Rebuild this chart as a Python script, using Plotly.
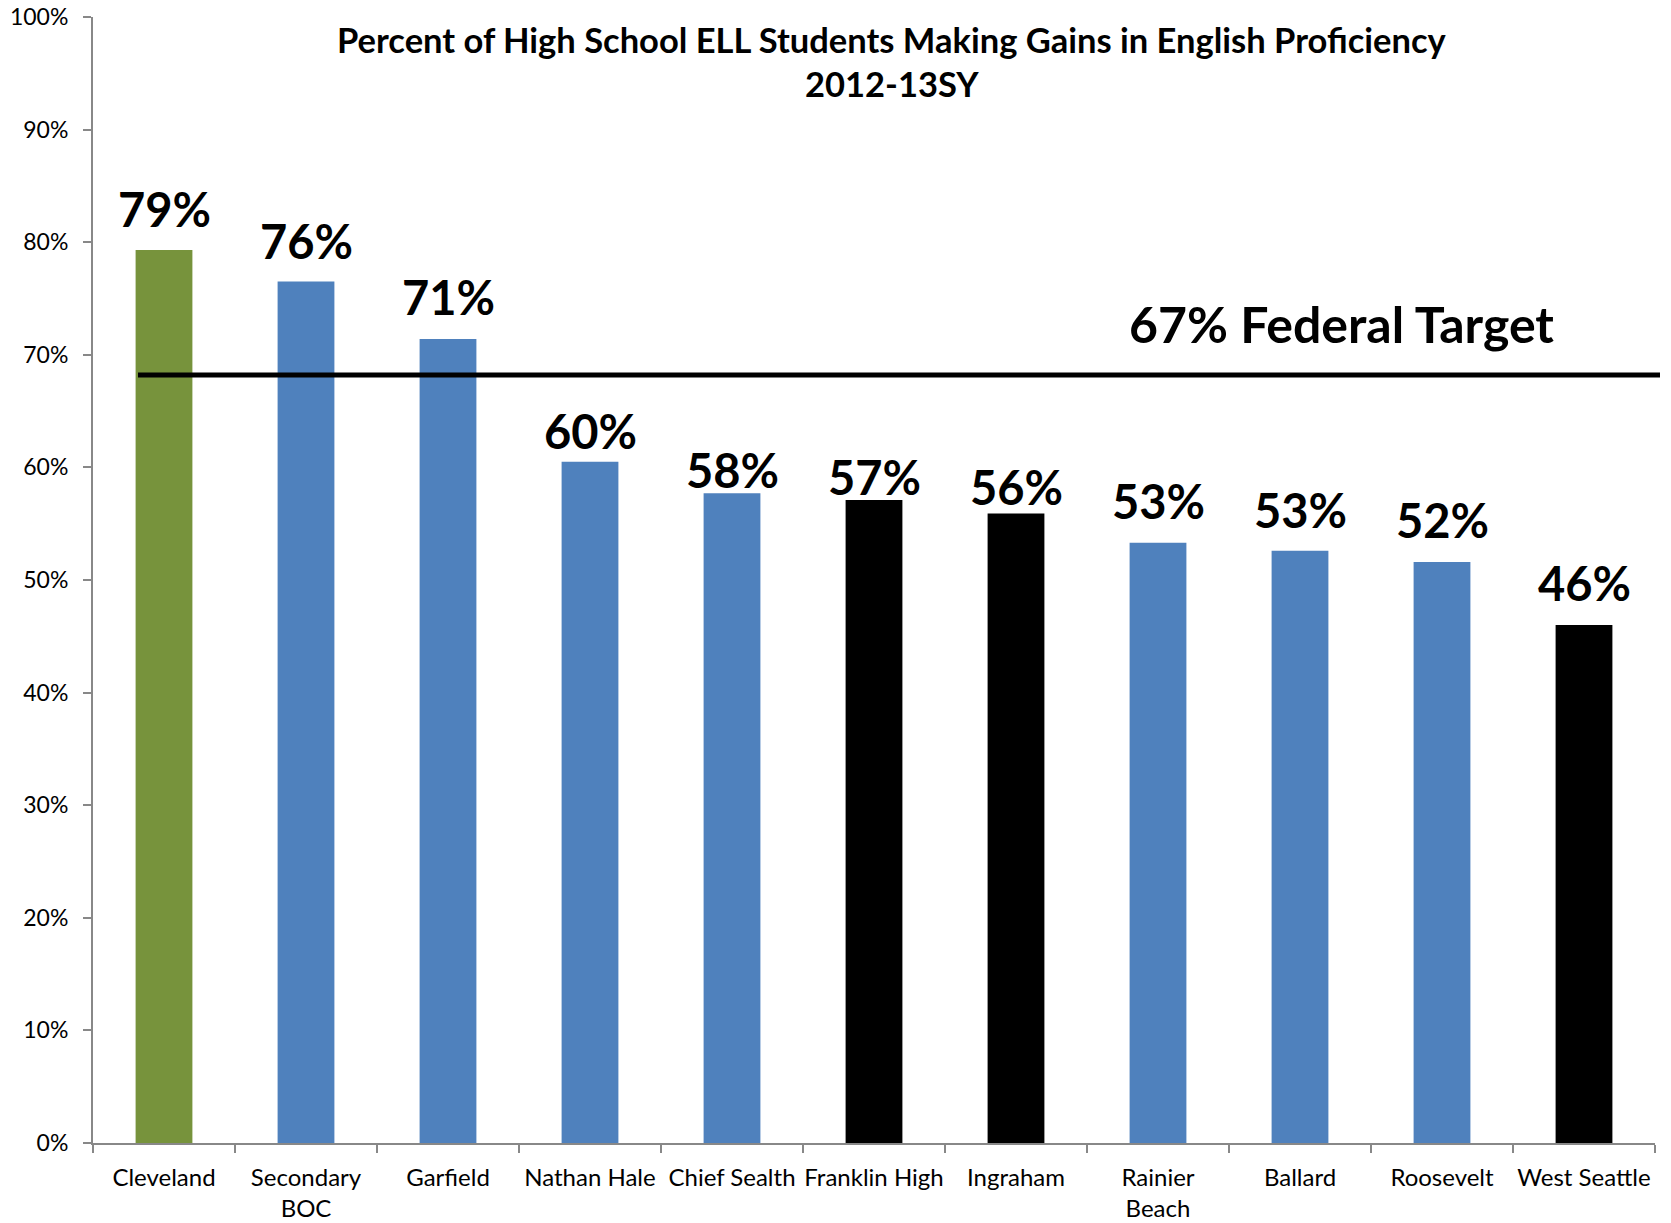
import plotly.graph_objects as go

schools = ["Cleveland", "Secondary<br>BOC", "Garfield", "Nathan Hale", "Chief Sealth",
           "Franklin High", "Ingraham", "Rainier<br>Beach", "Ballard", "Roosevelt", "West Seattle"]
values = [79.3, 76.5, 71.4, 60.5, 57.7, 57.1, 55.9, 53.3, 52.6, 51.6, 46.0]
value_labels = ["79%", "76%", "71%", "60%", "58%", "57%", "56%", "53%", "53%", "52%", "46%"]
target_line = 68.2
target_label = "67% Federal Target"
title_lines = ["Percent of High School ELL Students Making Gains in English Proficiency", "2012-13SY"]
y_ticks = list(range(0, 101, 10))
y_tick_text = [f"{v}%" for v in y_ticks]

# styling
bar_colors = ["#77933C", "#4F81BD", "#4F81BD", "#4F81BD", "#4F81BD",
              "#000000", "#000000", "#4F81BD", "#4F81BD", "#4F81BD", "#000000"]
label_yshift = [11, 11, 12, 1, -7, -7, -3, 12, 11, 12, 12]  # pixel nudges of the value labels

FONT = "Lato"
L, R, T, B = 93, 16, 17, 80
PW, PH = 1671 - L - R, 1223 - T - B

fig = go.Figure()
fig.add_trace(go.Bar(
    x=schools, y=values, marker=dict(color=bar_colors, line=dict(width=0)),
    width=0.4, hoverinfo="skip", showlegend=False,
))

for s, v, lab, dy in zip(schools, values, value_labels, label_yshift):
    fig.add_annotation(x=s, y=v, text=lab, showarrow=False, yanchor="bottom", xanchor="center",
                       yshift=dy, font=dict(family=FONT, size=47, color="black", weight="bold"))

fig.add_shape(type="line", xref="paper", yref="y", x0=(138 - L) / PW, x1=(1660 - L) / PW,
              y0=target_line, y1=target_line, line=dict(color="black", width=5))
fig.add_annotation(xref="paper", yref="y", x=(1341 - L) / PW, y=target_line, yshift=51,
                   text=target_label, showarrow=False, xanchor="center", yanchor="middle",
                   font=dict(family=FONT, size=50, color="black", weight="bold"))

fig.add_annotation(xref="paper", yref="paper", x=(892 - L) / PW, y=1 - (39 - T) / PH,
                   text=title_lines[0], showarrow=False, xanchor="center", yanchor="middle",
                   font=dict(family=FONT, size=34.5, color="black", weight="bold"))
fig.add_annotation(xref="paper", yref="paper", x=(892 - L) / PW, y=1 - (83 - T) / PH,
                   text=title_lines[1], showarrow=False, xanchor="center", yanchor="middle",
                   font=dict(family=FONT, size=34.5, color="black", weight="bold"))

fig.update_layout(
    width=1671, height=1223,
    margin=dict(l=L, r=R, t=T, b=B, autoexpand=False),
    plot_bgcolor="white", paper_bgcolor="white",
    bargap=0.6,
)
fig.update_xaxes(
    showline=True, linecolor="#888888", linewidth=2, automargin=False,
    ticks="outside", tickson="boundaries", ticklen=8, tickcolor="#888888", tickwidth=1.5,
    tickfont=dict(family=FONT, size=24, color="black"), tickangle=0, ticklabelstandoff=12,
    showgrid=False, range=[-0.5, 10.5],
)
fig.update_yaxes(
    range=[0, 100], tickmode="array", tickvals=y_ticks, ticktext=y_tick_text,
    showline=True, linecolor="#888888", linewidth=2, automargin=False,
    ticks="outside", ticklen=8, tickcolor="#888888", tickwidth=1.5,
    tickfont=dict(family=FONT, size=23, color="black"), ticklabelstandoff=10,
    showgrid=False, zeroline=False,
)

fig.write_html("out.html", config={"displayModeBar": False},
               post_script="document.body.style.margin='0';")
